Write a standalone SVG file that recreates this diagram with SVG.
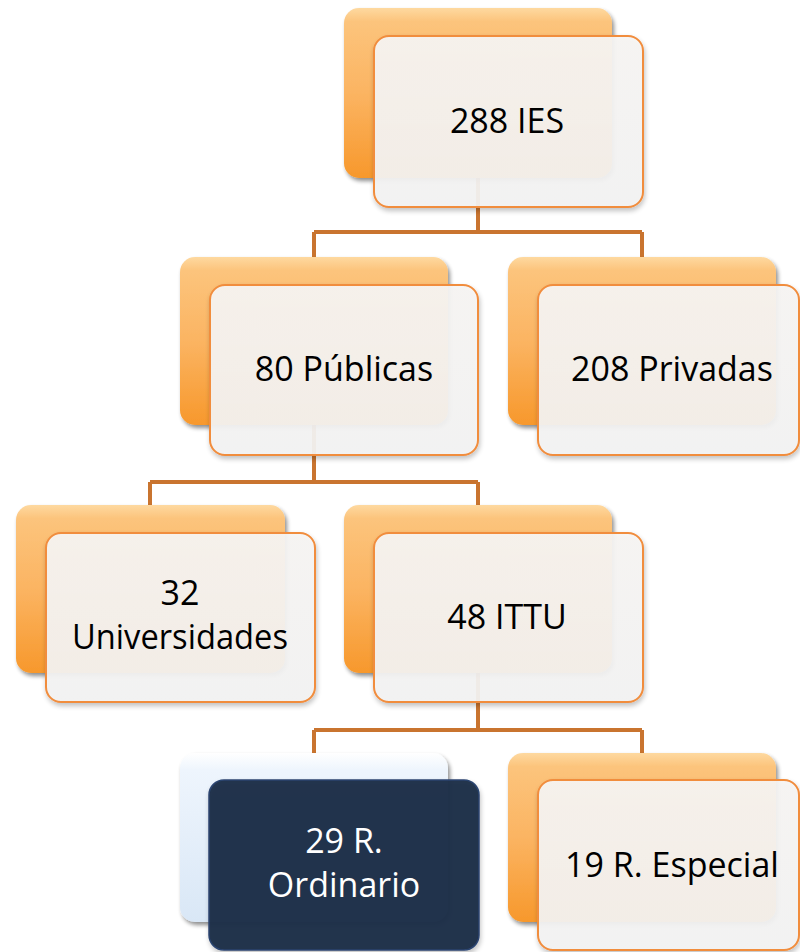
<svg xmlns="http://www.w3.org/2000/svg" width="800" height="952" viewBox="0 0 800 952">
<defs>
<linearGradient id="gOr" x1="0" y1="0" x2="0" y2="1">
<stop offset="0" stop-color="#fed9a0"/>
<stop offset="0.08" stop-color="#fcc47c"/>
<stop offset="0.5" stop-color="#fbb462"/>
<stop offset="1" stop-color="#f7982c"/>
</linearGradient>
<linearGradient id="gBl" x1="0" y1="0" x2="0" y2="1">
<stop offset="0" stop-color="#ffffff"/>
<stop offset="0.1" stop-color="#eef5fd"/>
<stop offset="1" stop-color="#d9e7f6"/>
</linearGradient>
<linearGradient id="gFr" x1="0" y1="0" x2="0" y2="1">
<stop offset="0" stop-color="#f7f5f3"/>
<stop offset="1" stop-color="#f3f3f3"/>
</linearGradient>
<filter id="sh" x="-10%" y="-10%" width="125%" height="130%">
<feGaussianBlur in="SourceAlpha" stdDeviation="2"/>
<feOffset dx="2" dy="3" result="b"/>
<feComponentTransfer><feFuncA type="linear" slope="0.45"/></feComponentTransfer>
<feMerge><feMergeNode/><feMergeNode in="SourceGraphic"/></feMerge>
</filter>
<filter id="sh2" x="-10%" y="-10%" width="125%" height="130%">
<feGaussianBlur in="SourceAlpha" stdDeviation="2.5"/>
<feOffset dx="1" dy="3" result="b"/>
<feComponentTransfer><feFuncA type="linear" slope="0.25"/></feComponentTransfer>
<feMerge><feMergeNode/><feMergeNode in="SourceGraphic"/></feMerge>
</filter>
</defs>
<style>
.back{fill:url(#gOr);filter:url(#sh)}
.backb{fill:url(#gBl);filter:url(#sh)}
.front{fill:url(#gFr);fill-opacity:0.93;stroke:#f18d3e;stroke-width:2;filter:url(#sh2)}
.frontd{fill:#1d2d48;fill-opacity:0.97;stroke:#2b4470;stroke-width:1.5;filter:url(#sh2)}
.t{font-family:"Open Sans","Noto Sans",sans-serif;font-size:34px;fill:#000;text-anchor:middle}
.tw{fill:#ffffff}
.conn{fill:none;stroke:#c9742f;stroke-width:4}
</style>
<rect width="800" height="952" fill="#ffffff"/>
<g id="connectors">
<path class="conn" d="M478 178V232M314 232H642M314 232V257M642 232V257"/>
<path class="conn" d="M314 425V482M150 482H478M150 482V505M478 482V505"/>
<path class="conn" d="M478 673V730M314 730H642M314 730V753M642 730V753"/>
</g>
<g id="n288">
<rect class="back" x="344" y="8" width="268" height="170" rx="15"/>
<rect class="front" x="374" y="36" width="269" height="171" rx="15"/>
<text class="t" x="507" y="133">288 IES</text>
</g>
<g id="n80">
<rect class="back" x="180" y="257" width="268" height="168" rx="15"/>
<rect class="front" x="210" y="285" width="268" height="170" rx="15"/>
<text class="t" x="344" y="381">80 Públicas</text>
</g>
<g id="n208">
<rect class="back" x="508" y="257" width="268" height="168" rx="15"/>
<rect class="front" x="538" y="285" width="261" height="170" rx="15"/>
<text class="t" x="672" y="381">208 Privadas</text>
</g>
<g id="n32">
<rect class="back" x="16" y="505" width="269" height="168" rx="15"/>
<rect class="front" x="46" y="533" width="269" height="169" rx="15"/>
<text class="t" x="180" y="605">32</text>
<text class="t" x="180" y="649" textLength="216" lengthAdjust="spacingAndGlyphs">Universidades</text>
</g>
<g id="n48">
<rect class="back" x="344" y="505" width="268" height="168" rx="15"/>
<rect class="front" x="374" y="533" width="269" height="169" rx="15"/>
<text class="t" x="507" y="629">48 ITTU</text>
</g>
<g id="n29">
<rect class="backb" x="180" y="753" width="268" height="169" rx="15"/>
<rect class="frontd" x="209" y="780" width="270" height="170" rx="15"/>
<text class="t tw" x="344" y="853">29 R.</text>
<text class="t tw" x="344" y="897">Ordinario</text>
</g>
<g id="n19">
<rect class="back" x="508" y="753" width="268" height="169" rx="15"/>
<rect class="front" x="538" y="780" width="261" height="170" rx="15"/>
<text class="t" x="672" y="877">19 R. Especial</text>
</g>
</svg>
